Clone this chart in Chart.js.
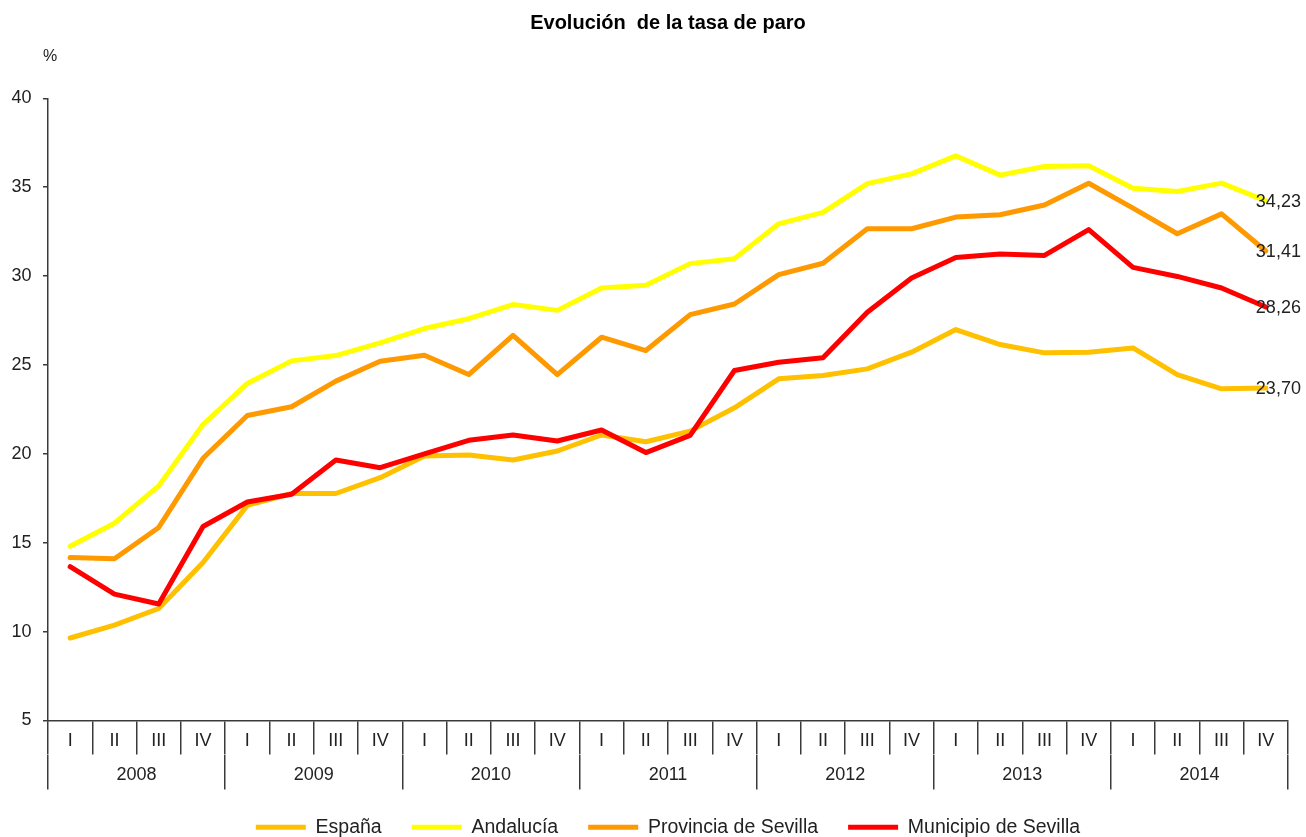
<!DOCTYPE html>
<html lang="es">
<head>
<meta charset="utf-8">
<title>Evolución de la tasa de paro</title>
<script src="https://cdn.jsdelivr.net/npm/chart.js@4/dist/chart.umd.min.js"></script>
<style>
  html, body { margin: 0; padding: 0; background: #fff; overflow: hidden; }
  #wrap { width: 1306px; height: 837px; }
</style>
</head>
<body>
<div id="wrap"><canvas id="paroChart" width="1306" height="837"></canvas></div>
<script>
// Datos (tasa de paro, %)
const years = ['2008', '2009', '2010', '2011', '2012', '2013', '2014'];
const quarters = ['I', 'II', 'III', 'IV'];
const yTicks = [5, 10, 15, 20, 25, 30, 35, 40];

const espana = [9.64, 10.37, 11.30, 13.89, 17.10, 17.77, 17.77, 18.66, 19.88, 19.93, 19.65, 20.16, 21.06, 20.68, 21.28, 22.59, 24.22, 24.41, 24.78, 25.72, 26.99, 26.15, 25.68, 25.72, 25.96, 24.46, 23.66, 23.70];
const andalucia = [14.80, 16.10, 18.20, 21.65, 23.96, 25.23, 25.53, 26.24, 27.05, 27.60, 28.40, 28.07, 29.33, 29.48, 30.70, 30.98, 32.94, 33.58, 35.20, 35.75, 36.76, 35.68, 36.16, 36.20, 34.94, 34.76, 35.23, 34.23];
const provincia = [14.17, 14.10, 15.86, 19.75, 22.16, 22.65, 24.09, 25.21, 25.55, 24.46, 26.67, 24.46, 26.56, 25.81, 27.83, 28.43, 30.08, 30.72, 32.66, 32.66, 33.32, 33.45, 34.00, 35.22, 33.82, 32.38, 33.50, 31.41];
const municipio = [13.65, 12.11, 11.55, 15.91, 17.29, 17.73, 19.65, 19.22, 20.00, 20.76, 21.06, 20.72, 21.34, 20.07, 21.04, 24.69, 25.15, 25.40, 27.96, 29.89, 31.05, 31.24, 31.16, 32.61, 30.49, 29.98, 29.33, 28.26];

const quarterLabels = years.flatMap(() => quarters);

const FONT = '"Liberation Sans", Arial, sans-serif';
const AXIS = '#3a3a3a';

// Texto "%" encima del eje y
const percentLabel = {
    id: 'percentLabel',
    afterDraw(chart) {
        const y = chart.scales.y;
        const ctx = chart.ctx;
        ctx.save();
        ctx.font = '16px ' + FONT;
        ctx.fillStyle = '#222';
        ctx.textAlign = 'center';
        ctx.textBaseline = 'middle';
        ctx.fillText('%', y.right + 2, 57);
        ctx.restore();
    }
};

// Etiqueta con el último valor de cada serie
const lastValueLabels = {
    id: 'lastValueLabels',
    afterDatasetsDraw(chart) {
        const ctx = chart.ctx;
        ctx.save();
        ctx.font = '18px ' + FONT;
        ctx.fillStyle = '#222';
        ctx.textAlign = 'left';
        ctx.textBaseline = 'middle';
        chart.data.datasets.forEach((ds, i) => {
            const meta = chart.getDatasetMeta(i);
            const last = meta.data[meta.data.length - 1];
            const v = ds.data[ds.data.length - 1];
            ctx.fillText(v.toFixed(2).replace('.', ','), last.x - 10, last.y + 1);
        });
        ctx.restore();
    }
};

function serie(label, data, color, order) {
    return {
        label: label,
        data: data,
        borderColor: color,
        backgroundColor: color,
        borderWidth: 5,
        borderCapStyle: 'round',
        borderJoinStyle: 'round',
        pointRadius: 0,
        pointHoverRadius: 0,
        tension: 0,
        order: order
    };
}

const ctx = document.getElementById('paroChart').getContext('2d');
new Chart(ctx, {
    type: 'line',
    data: {
        labels: quarterLabels,
        datasets: [
            serie('España', espana, '#FFC000', 4),
            serie('Andalucía', andalucia, '#FFFF00', 3),
            serie('Provincia de Sevilla', provincia, '#FF9900', 2),
            serie('Municipio de Sevilla', municipio, '#FF0000', 1)
        ]
    },
    options: {
        responsive: false,
        animation: false,
        devicePixelRatio: 1,
        layout: { padding: { left: 0, right: 18, top: 0, bottom: -10 } },
        plugins: {
            title: {
                display: true,
                text: 'Evolución  de la tasa de paro',
                fullSize: false,
                color: '#000',
                font: { family: FONT, size: 20, weight: 'bold' },
                padding: { top: 11, bottom: 63.3 }
            },
            legend: {
                position: 'bottom',
                fullSize: false,
                labels: {
                    usePointStyle: true,
                    pointStyle: 'line',
                    pointStyleWidth: 50,
                    padding: 30,
                    color: '#222',
                    font: { family: FONT, size: 19.5 },
                    sort: (a, b) => a.datasetIndex - b.datasetIndex
                }
            },
            tooltip: { enabled: false }
        },
        scales: {
            x: {
                type: 'category',
                offset: true,
                weight: 0,
                grid: {
                    offset: true,
                    drawOnChartArea: false,
                    tickLength: 34,
                    color: AXIS,
                    lineWidth: 1.5
                },
                border: { color: AXIS, width: 1.5 },
                ticks: {
                    autoSkip: false,
                    maxRotation: 0,
                    padding: -23.8,
                    color: '#222',
                    font: { family: FONT, size: 18 }
                },
                title: {
                    display: true,
                    text: '',
                    font: { size: 10, lineHeight: 1 },
                    padding: { top: 0, bottom: 16 }
                }
            },
            x2: {
                type: 'category',
                labels: years,
                offset: true,
                position: 'bottom',
                weight: 1,
                grid: {
                    offset: true,
                    drawOnChartArea: false,
                    tickLength: 35,
                    color: AXIS,
                    lineWidth: 1.5
                },
                border: { display: false },
                ticks: {
                    autoSkip: false,
                    maxRotation: 0,
                    padding: -24.8,
                    color: '#222',
                    font: { family: FONT, size: 18 }
                },
                title: {
                    display: true,
                    text: '',
                    font: { size: 10, lineHeight: 1 },
                    padding: { top: 0, bottom: 16 }
                }
            },
            y: {
                min: 5,
                max: 40,
                afterBuildTicks(scale) {
                    scale.ticks = yTicks.map(v => ({ value: v }));
                },
                grid: {
                    drawOnChartArea: false,
                    tickLength: 5,
                    color: AXIS,
                    lineWidth: 1.5
                },
                border: { color: AXIS, width: 1.5 },
                ticks: {
                    padding: 11.5,
                    color: '#222',
                    font: { family: FONT, size: 18 }
                }
            }
        }
    },
    plugins: [percentLabel, lastValueLabels]
});
</script>
</body>
</html>
